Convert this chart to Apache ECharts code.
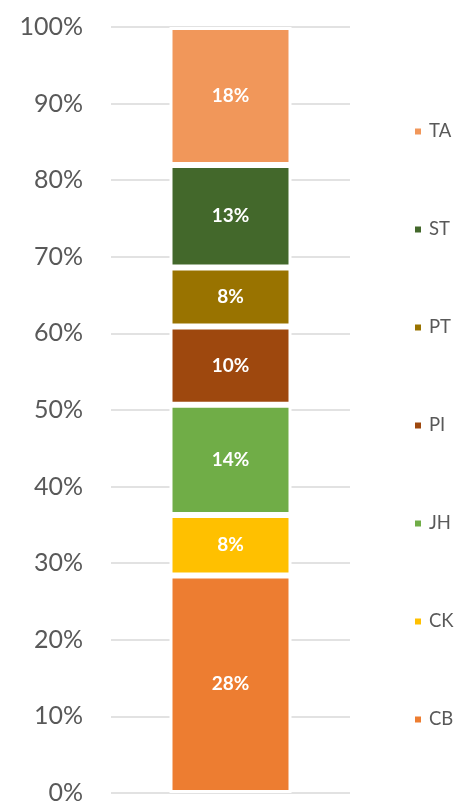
<!DOCTYPE html>
<html>
<head>
<meta charset="utf-8">
<script src="https://cdn.jsdelivr.net/npm/echarts@6/dist/echarts.min.js"></script>
<style>html,body{margin:0;padding:0;background:#fff}#c{width:467px;height:809px}</style>
</head>
<body>
<div id="c"></div>
<script>
const categories = [''];
const seriesNames = ['CB', 'CK', 'JH', 'PI', 'PT', 'ST', 'TA'];
const seriesValues = [28.4, 7.9, 14.4, 10.2, 7.7, 13.4, 18.0];
const seriesColors = ['#ED7D31', '#FFC000', '#70AD47', '#9E480E', '#997300', '#43682B', '#F1975A'];
const yTicks = [0, 10, 20, 30, 40, 50, 60, 70, 80, 90, 100];

const chart = echarts.init(document.getElementById('c'), null, {renderer: 'canvas'});
const font = 'Lato, "Open Sans", sans-serif';
chart.setOption({
  animation: false,
  grid: {left: 111, right: 117, top: 27, bottom: 16, containLabel: false},
  xAxis: {type: 'category', data: categories, axisLine: {show: false}, axisTick: {show: false}, axisLabel: {show: false}},
  yAxis: {
    type: 'value', min: yTicks[0], max: yTicks[yTicks.length - 1], interval: 10,
    axisLine: {show: false}, axisTick: {show: false},
    axisLabel: {formatter: v => v + '%', color: '#595959', fontSize: 25, fontFamily: font, margin: 28},
    splitLine: {lineStyle: {color: '#d9d9d9', width: 1.5}}
  },
  legend: {
    orient: 'vertical', left: 408, top: 117, itemGap: 79,
    itemWidth: 8, itemHeight: 8, icon: 'rect',
    data: seriesNames.slice().reverse(),
    textStyle: {color: '#595959', fontSize: 18.5, fontFamily: font, padding: [0, 0, 0, 2]}
  },
  series: seriesNames.map((n, i) => ({
    name: n, type: 'bar', stack: 'total', barWidth: 122,
    data: [seriesValues[i]],
    itemStyle: {color: seriesColors[i], borderColor: '#ffffff', borderWidth: 3},
    label: {show: true, position: 'inside', formatter: p => Math.round(p.value) + '%', color: '#ffffff', fontWeight: 'bold', fontSize: 19, fontFamily: font}
  }))
});
</script>
</body>
</html>
